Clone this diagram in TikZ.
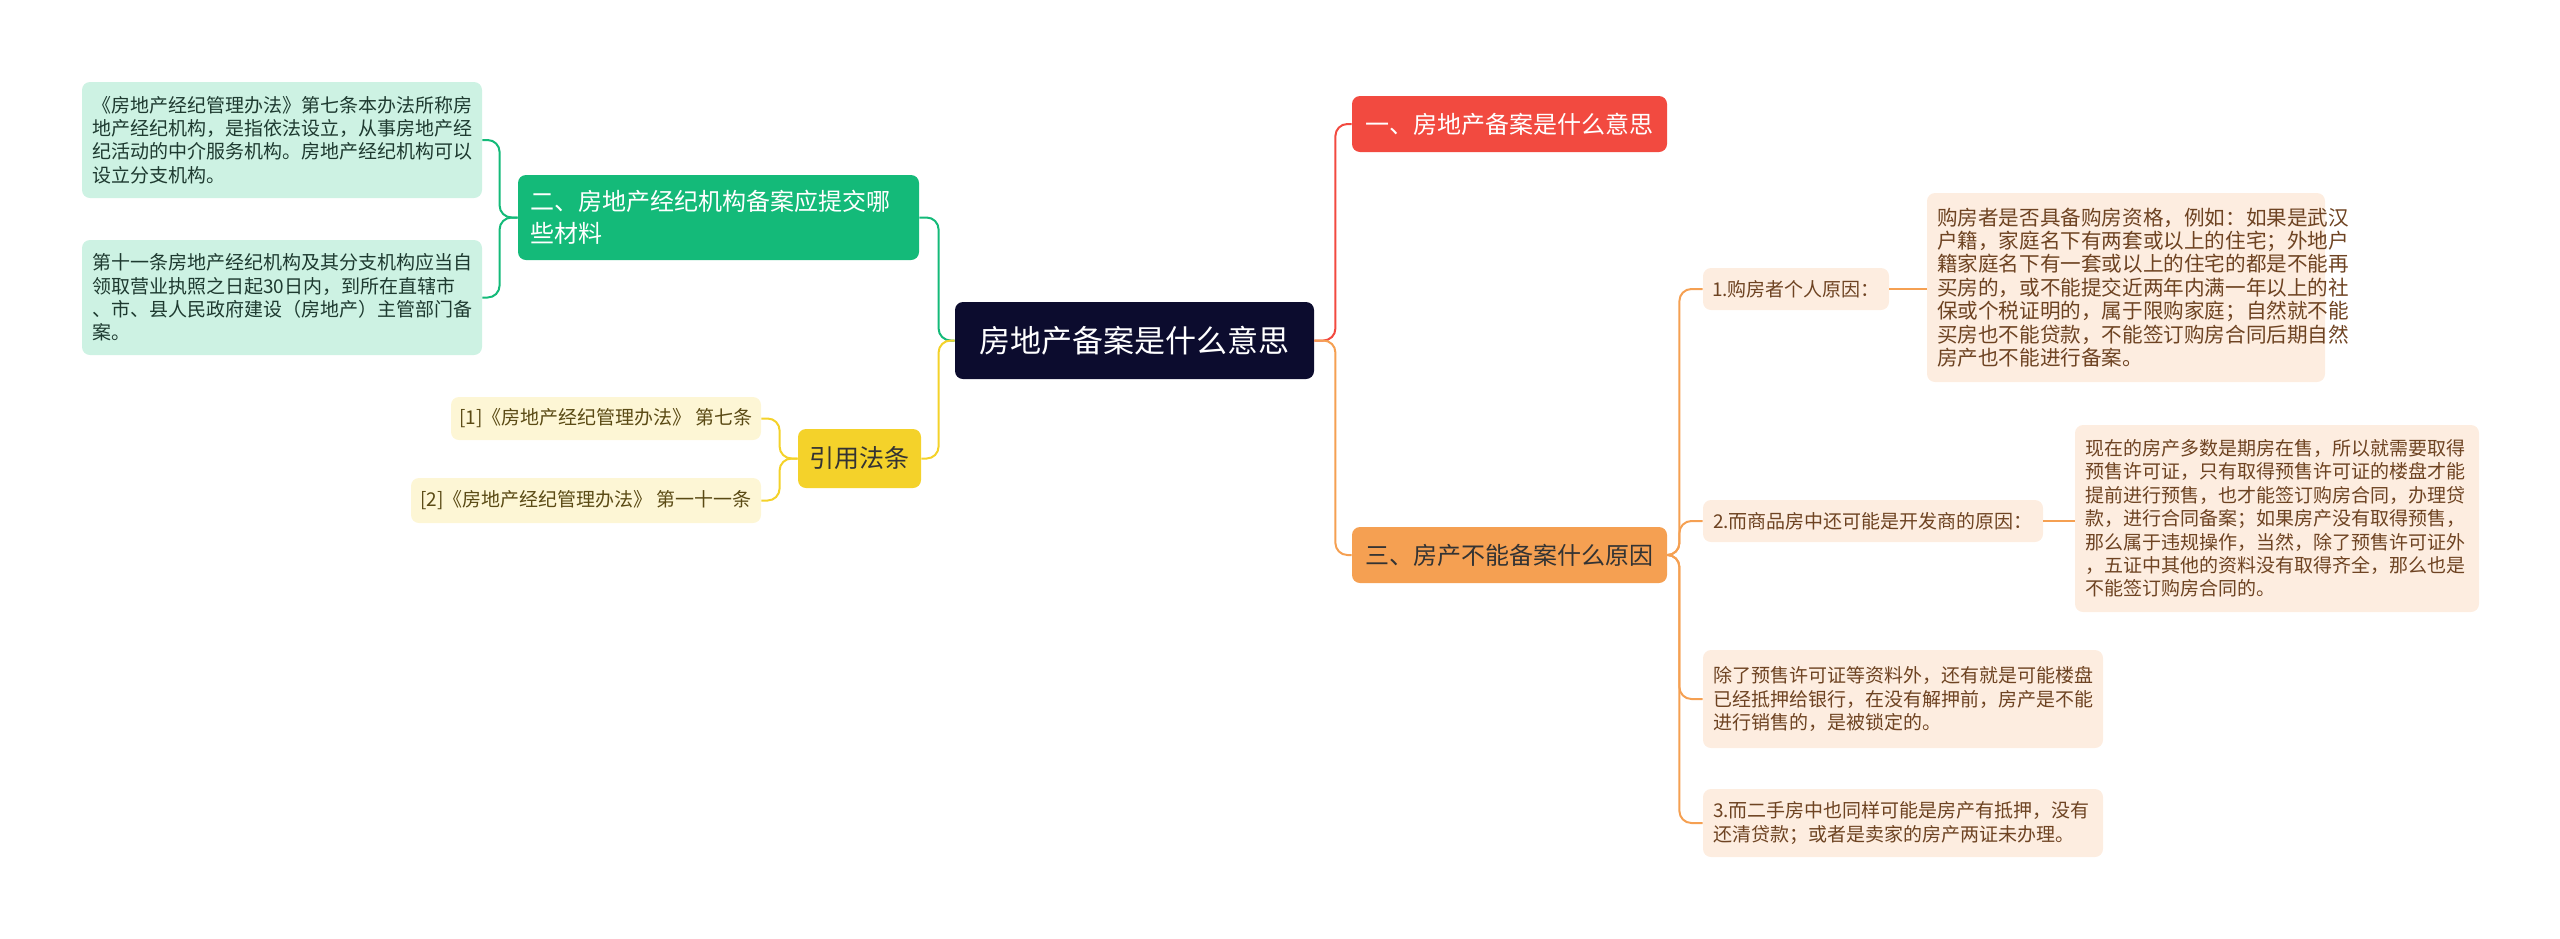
\documentclass[tikz,border=0pt]{standalone}
\usepackage{fontspec}
\setmainfont{Noto Sans CJK SC}
\definecolor{cdark}{HTML}{0C0C2E}
\definecolor{cred}{HTML}{F24A40}
\definecolor{cor}{HTML}{F5A052}
\definecolor{cgr}{HTML}{14BA79}
\definecolor{cye}{HTML}{F4D22A}
\definecolor{lgr}{HTML}{CDF2E3}
\definecolor{lye}{HTML}{FDF6D5}
\definecolor{lor}{HTML}{FDEDE0}
\definecolor{tor}{HTML}{6E4322}
\definecolor{tgr}{HTML}{1E3A30}
\definecolor{tye}{HTML}{5A4A14}
\tikzset{
 base/.style={rounded corners=4pt, inner sep=0pt, align=left},
 leafG/.style={base, fill=lgr, text=tgr, font=\fontsize{9.5}{11.7}\selectfont},
 leafY/.style={base, fill=lye, text=tye, font=\fontsize{9.5}{11.7}\selectfont},
 leafO/.style={base, fill=lor, text=tor, font=\fontsize{9.5}{11.7}\selectfont},
 link/.style={line width=1pt, rounded corners=6pt},
}
\begin{document}
\begin{tikzpicture}[x=0.5pt,y=-0.5pt]
\useasboundingbox (0,0) rectangle (2560,938);
\node[base, fill=cdark, text=white, minimum width=179.5pt, minimum height=38.5pt, font=\fontsize{15.5}{18}\selectfont] (c) at (1134.5,340.5) {房地产备案是什么意思};
\node[base, fill=cred, text=white, minimum width=157.5pt, minimum height=28pt, font=\fontsize{12}{14}\selectfont] (a1) at (1509.5,124) {一、房地产备案是什么意思};
\node[base, fill=cor, text=black!80, minimum width=157.5pt, minimum height=28pt, font=\fontsize{12}{14}\selectfont] (a3) at (1509.5,555) {三、房产不能备案什么原因};
\node[base, fill=cgr, text=white, minimum width=200.5pt, minimum height=42.5pt, font=\fontsize{12}{16}\selectfont, text width=188pt] (a2) at (718.5,217.5) {二、房地产经纪机构备案应提交哪\\些材料};
\node[base, fill=cye, text=black!80, minimum width=61.5pt, minimum height=29.5pt, font=\fontsize{12.5}{15}\selectfont, align=center] (ref) at (859.5,458.5) {引用法条};

\node[leafG, minimum width=200pt, minimum height=58pt, text width=190pt] (g1) at (282,140) {《房地产经纪管理办法》第七条本办法所称房\\地产经纪机构，是指依法设立，从事房地产经\\纪活动的中介服务机构。房地产经纪机构可以\\设立分支机构。};
\node[leafG, minimum width=200pt, minimum height=57.5pt, text width=190pt] (g2) at (282,297.5) {第十一条房地产经纪机构及其分支机构应当自\\领取营业执照之日起30日内，到所在直辖市\\、市、县人民政府建设（房地产）主管部门备\\案。};
\node[leafY, minimum width=155pt, minimum height=21.5pt, align=center] (y1) at (606,418.5) {[1]《房地产经纪管理办法》 第七条};
\node[leafY, minimum width=175pt, minimum height=22.5pt, align=center] (y2) at (586,500.5) {[2]《房地产经纪管理办法》 第一十一条};

\node[leafO, minimum width=93pt, minimum height=21pt, align=center] (o1) at (1796,289) {1.购房者个人原因：};
\node[leafO, minimum width=199pt, minimum height=94.5pt, text width=189pt, font=\fontsize{10.3}{11.7}\selectfont] (t1) at (2126,287.5) {购房者是否具备购房资格，例如：如果是武汉\\户籍，家庭名下有两套或以上的住宅；外地户\\籍家庭名下有一套或以上的住宅的都是不能再\\买房的，或不能提交近两年内满一年以上的社\\保或个税证明的，属于限购家庭；自然就不能\\买房也不能贷款，不能签订购房合同后期自然\\房产也不能进行备案。};
\node[leafO, minimum width=170pt, minimum height=21pt, align=center] (o2) at (1873,521) {2.而商品房中还可能是开发商的原因：};
\node[leafO, minimum width=202pt, minimum height=93.5pt, text width=192pt] (t2) at (2277,518.5) {现在的房产多数是期房在售，所以就需要取得\\预售许可证，只有取得预售许可证的楼盘才能\\提前进行预售，也才能签订购房合同，办理贷\\款，进行合同备案；如果房产没有取得预售，\\那么属于违规操作，当然，除了预售许可证外\\，五证中其他的资料没有取得齐全，那么也是\\不能签订购房合同的。};
\node[leafO, minimum width=200pt, minimum height=49pt, text width=190pt] (o3) at (1903,699) {除了预售许可证等资料外，还有就是可能楼盘\\已经抵押给银行，在没有解押前，房产是不能\\进行销售的，是被锁定的。};
\node[leafO, minimum width=200pt, minimum height=34pt, text width=190pt] (o4) at (1903,823) {3.而二手房中也同样可能是房产有抵押，没有\\还清贷款；或者是卖家的房产两证未办理。};

\draw[link, cred] (c.east) -- ++(10.5pt,0) |- (a1.west);
\draw[link, cor] (c.east) -- ++(10.5pt,0) |- (a3.west);
\draw[link, cgr] (c.west) -- ++(-8pt,0) |- (a2.east);
\draw[link, cye] (c.west) -- ++(-8pt,0) |- (ref.east);
\draw[link, cgr] (a2.west) -- ++(-9pt,0) |- (g1.east);
\draw[link, cgr] (a2.west) -- ++(-9pt,0) |- (g2.east);
\draw[link, cye] (ref.west) -- ++(-9pt,0) |- (y1.east);
\draw[link, cye] (ref.west) -- ++(-9pt,0) |- (y2.east);
\foreach \n in {o1,o2,o3,o4}{\draw[link, cor] (a3.east) -- ++(6pt,0) |- (\n.west);}
\draw[link, cor] (o1.east) -- (t1.west |- o1.east);
\draw[link, cor] (o2.east) -- (t2.west |- o2.east);
\end{tikzpicture}
\end{document}
